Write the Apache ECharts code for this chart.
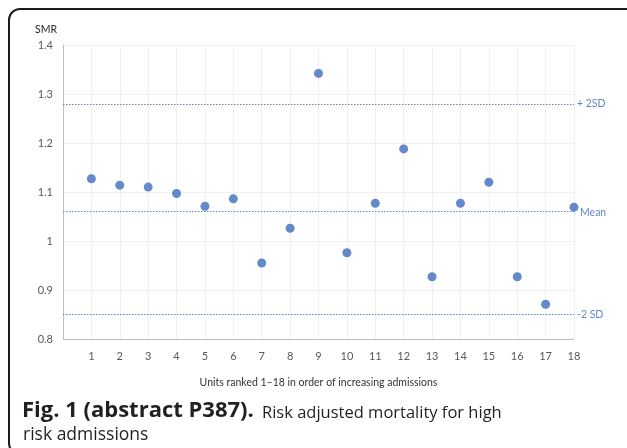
<!DOCTYPE html>
<html>
<head>
<meta charset="utf-8">
<script src="https://cdn.jsdelivr.net/npm/echarts@6/dist/echarts.min.js"></script>
<style>
html,body{margin:0;padding:0;background:#fff;}
#chart{width:627px;height:448px;}
</style>
</head>
<body>
<div id="chart"></div>
<script>
var units = [1,2,3,4,5,6,7,8,9,10,11,12,13,14,15,16,17,18];
var smr = [1.127,1.114,1.110,1.097,1.071,1.086,0.955,1.026,1.342,0.976,1.077,1.188,0.927,1.077,1.120,0.927,0.871,1.069];
var refLabels = ['+ 2SD','Mean','-2 SD'];
var refValues = [1.281,1.063,0.846];
var yTicks = [0.8,0.9,1,1.1,1.2,1.3,1.4];
var captionBold = 'Fig. 1 (abstract P387).';
var captionLine1 = 'Risk adjusted mortality for high';
var captionLine2 = 'risk admissions';

var chart = echarts.init(document.getElementById('chart'));
var blue = '#3d6dbf';
var lineBlue = '#4472C4';
var font = 'Lato';

chart.setOption({
  animation:false,
  backgroundColor:'#fff',
  grid:{left:63,right:53,top:45,bottom:109},
  graphic:[
    {type:'rect',shape:{x:9,y:9,width:640,height:445,r:11},style:{fill:'none',stroke:'#1a1a1a',lineWidth:2},z:100},
    {type:'text',left:35,top:24,style:{text:'SMR',fontFamily:font,fontSize:10.5,fill:'#262626'}},
    {type:'text',x:22,y:422,style:{text:captionBold,fontFamily:'Open Sans',fontWeight:'bold',fontSize:22,fill:'#231f20',verticalAlign:'bottom'}},
    {type:'text',x:262,y:421.5,style:{text:captionLine1,fontFamily:'Open Sans',fontWeight:'normal',fontSize:16.5,fill:'#231f20',verticalAlign:'bottom'}},
    {type:'text',x:23,y:444,style:{text:captionLine2,fontFamily:'Open Sans',fontWeight:'normal',fontSize:17.5,fill:'#231f20',verticalAlign:'bottom'}}
  ],
  xAxis:{
    type:'value',min:0,max:18,interval:1,
    name:'Units ranked 1\u201318 in order of increasing admissions',
    nameLocation:'middle',nameGap:38,
    nameTextStyle:{fontFamily:font,fontSize:10.5,color:'#333'},
    axisLine:{show:true,lineStyle:{color:'#bfbfbf',width:1}},
    axisTick:{show:false},
    axisLabel:{fontFamily:font,fontSize:11,color:'#595959',margin:12,
      formatter:function(v){return units.indexOf(v)>=0?String(v):'';}},
    splitLine:{show:true,lineStyle:{color:'#f0f0f0',width:1}}
  },
  yAxis:{
    type:'value',min:0.8,max:1.4,interval:0.1,
    axisLine:{show:true,lineStyle:{color:'#bfbfbf',width:1}},
    axisTick:{show:false},
    axisLabel:{fontFamily:font,fontSize:11,color:'#595959',margin:10,
      formatter:function(v){var r=Math.round(v*10)/10;return yTicks.indexOf(r)>=0?String(r):'';}},
    splitLine:{show:true,lineStyle:{color:'#f0f0f0',width:1}}
  },
  series:[{
    type:'scatter',
    symbolSize:9,
    itemStyle:{color:blue},
    z:3,
    data:units.map(function(u,i){return [u,smr[i]];}),
    markLine:{
      silent:true,
      symbol:['none','none'],
      lineStyle:{color:lineBlue,type:[1.5,1.5],width:1,opacity:0.85},
      label:{show:true,position:'end',distance:3,fontFamily:font,fontSize:10.5,color:lineBlue,
        formatter:function(p){return p.name;}},
      data:refValues.map(function(v,i){
        var lab = {};
        if(refLabels[i]==='Mean'){lab={label:{offset:[0,1],distance:6}};}
        return Object.assign({name:refLabels[i],yAxis:v},lab);
      })
    }
  }]
});
</script>
</body>
</html>
